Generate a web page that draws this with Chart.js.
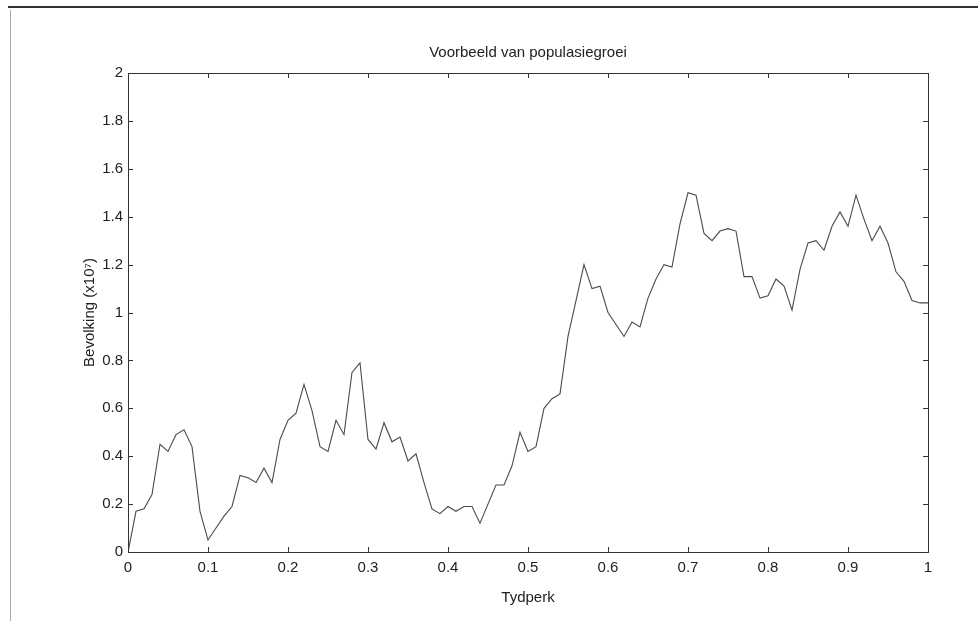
<!DOCTYPE html>
<html>
<head>
<meta charset="utf-8">
<script src="https://cdn.jsdelivr.net/npm/chart.js@4/dist/chart.umd.min.js"></script>
<style>
  html, body { margin: 0; padding: 0; background: #fff; }
  #wrap { width: 978px; height: 621px; position: relative; }
</style>
</head>
<body>
<div id="wrap"><canvas id="c" width="978" height="621"></canvas></div>
<script>
const tydperk = [0,0.01,0.02,0.03,0.04,0.05,0.06,0.07,0.08,0.09,
  0.1,0.11,0.12,0.13,0.14,0.15,0.16,0.17,0.18,0.19,
  0.2,0.21,0.22,0.23,0.24,0.25,0.26,0.27,0.28,0.29,
  0.3,0.31,0.32,0.33,0.34,0.35,0.36,0.37,0.38,0.39,
  0.4,0.41,0.42,0.43,0.44,0.45,0.46,0.47,0.48,0.49,
  0.5,0.51,0.52,0.53,0.54,0.55,0.56,0.57,0.58,0.59,
  0.6,0.61,0.62,0.63,0.64,0.65,0.66,0.67,0.68,0.69,
  0.7,0.71,0.72,0.73,0.74,0.75,0.76,0.77,0.78,0.79,
  0.8,0.81,0.82,0.83,0.84,0.85,0.86,0.87,0.88,0.89,
  0.9,0.91,0.92,0.93,0.94,0.95,0.96,0.97,0.98,0.99,1];
const bevolking = [0,0.17,0.18,0.24,0.45,0.42,0.49,0.51,0.44,0.17,
  0.05,0.10,0.15,0.19,0.32,0.31,0.29,0.35,0.29,0.47,
  0.55,0.58,0.70,0.59,0.44,0.42,0.55,0.49,0.75,0.79,
  0.47,0.43,0.54,0.46,0.48,0.38,0.41,0.29,0.18,0.16,
  0.19,0.17,0.19,0.19,0.12,0.20,0.28,0.28,0.36,0.50,
  0.42,0.44,0.60,0.64,0.66,0.90,1.05,1.20,1.10,1.11,
  1.00,0.95,0.90,0.96,0.94,1.06,1.14,1.20,1.19,1.37,
  1.50,1.49,1.33,1.30,1.34,1.35,1.34,1.15,1.15,1.06,
  1.07,1.14,1.11,1.01,1.18,1.29,1.30,1.26,1.36,1.42,
  1.36,1.49,1.39,1.30,1.36,1.29,1.17,1.13,1.05,1.04,1.04];
const xTicks = [0,0.1,0.2,0.3,0.4,0.5,0.6,0.7,0.8,0.9,1];
const yTicks = [0,0.2,0.4,0.6,0.8,1,1.2,1.4,1.6,1.8,2];
const titleText = 'Voorbeeld van populasiegroei';
const xLabel = 'Tydperk';
const yLabel = 'Bevolking (x10\u2077)';

const FONT = "'Liberation Sans', Arial, Helvetica, sans-serif";
const TXT = '#222';
const FS = 15;

const bg = {
  id: 'bg',
  beforeDraw(chart) {
    const ctx = chart.ctx;
    ctx.save();
    ctx.fillStyle = '#fff';
    ctx.fillRect(0, 0, chart.width, chart.height);
    // scanned page borders
    ctx.strokeStyle = '#333';
    ctx.lineWidth = 2;
    ctx.beginPath(); ctx.moveTo(8, 7); ctx.lineTo(978, 7); ctx.stroke();
    ctx.strokeStyle = '#aaa';
    ctx.lineWidth = 1;
    ctx.beginPath(); ctx.moveTo(10.5, 10); ctx.lineTo(10.5, 621); ctx.stroke();
    ctx.restore();
  }
};

const boxTicks = {
  id: 'boxTicks',
  afterDatasetsDraw(chart) {
    const {ctx, chartArea: a, scales} = chart;
    ctx.save();
    ctx.strokeStyle = '#333';
    ctx.lineWidth = 1;
    ctx.strokeRect(Math.round(a.left) + 0.5, Math.round(a.top) + 0.5,
      Math.round(a.right - a.left), Math.round(a.bottom - a.top));
    const L = 5;
    ctx.beginPath();
    xTicks.forEach(v => {
      const px = Math.round(scales.x.getPixelForValue(v)) + 0.5;
      ctx.moveTo(px, a.bottom); ctx.lineTo(px, a.bottom - L);
      ctx.moveTo(px, a.top); ctx.lineTo(px, a.top + L);
    });
    yTicks.forEach(v => {
      const py = Math.round(scales.y.getPixelForValue(v)) + 0.5;
      ctx.moveTo(a.left, py); ctx.lineTo(a.left + L, py);
      ctx.moveTo(a.right, py); ctx.lineTo(a.right - L, py);
    });
    ctx.stroke();
    ctx.restore();
  }
};

new Chart(document.getElementById('c'), {
  type: 'line',
  data: {
    datasets: [{
      data: tydperk.map((x, i) => ({x, y: bevolking[i]})),
      borderColor: '#4a4a4a',
      borderWidth: 1.1,
      pointRadius: 0,
      tension: 0,
      fill: false
    }]
  },
  options: {
    responsive: false,
    animation: false,
    devicePixelRatio: 1,
    layout: { padding: { left: 0, right: 50, top: 0, bottom: 0 } },
    plugins: {
      legend: { display: false },
      tooltip: { enabled: false },
      title: {
        display: true,
        fullSize: false,
        text: titleText,
        color: TXT,
        font: { family: FONT, size: FS, weight: 'normal' },
        padding: { top: 44, bottom: 11 }
      }
    },
    scales: {
      x: {
        type: 'linear',
        min: 0, max: 1,
        afterBuildTicks(s) { s.ticks = xTicks.map(v => ({value: v})); },
        afterFit(s) { s.height = 69; },
        grid: { display: false, drawTicks: false },
        border: { display: false },
        ticks: {
          color: TXT, padding: 7, maxRotation: 0, autoSkip: false,
          font: { family: FONT, size: FS },
          callback: v => String(v)
        },
        title: {
          display: true, text: xLabel, color: TXT,
          font: { family: FONT, size: FS },
          padding: { top: 0, bottom: 14 }
        }
      },
      y: {
        type: 'linear',
        min: 0, max: 2,
        afterBuildTicks(s) { s.ticks = yTicks.map(v => ({value: v})); },
        afterFit(s) { s.width = 128; },
        grid: { display: false, drawTicks: false },
        border: { display: false },
        ticks: {
          color: TXT, padding: 5, autoSkip: false,
          font: { family: FONT, size: FS },
          callback: v => String(v)
        },
        title: {
          display: true, text: yLabel, color: TXT,
          font: { family: FONT, size: FS },
          padding: { top: 81, bottom: 0 }
        }
      }
    }
  },
  plugins: [bg, boxTicks]
});
</script>
</body>
</html>
